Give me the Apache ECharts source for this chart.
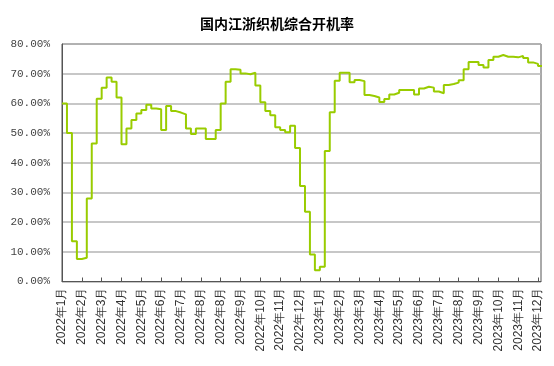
<!DOCTYPE html>
<html>
<head>
<meta charset="utf-8">
<script src="https://cdn.jsdelivr.net/npm/echarts@6/dist/echarts.min.js"></script>
<style>html,body{margin:0;padding:0;background:#fff;}#chart{width:554px;height:366px;}</style>
</head>
<body>
<div id="chart"></div>
<script>
const chartTitle = '国内江浙织机综合开机率';
const tickLabels = ['2022年1月','2022年2月','2022年3月','2022年4月','2022年5月','2022年6月','2022年7月','2022年8月','2022年8月','2022年9月','2022年10月','2022年11月','2022年12月',
  '2023年1月','2023年2月','2023年3月','2023年4月','2023年5月','2023年6月','2023年7月','2023年8月','2023年9月','2023年10月','2023年11月','2023年12月'];
const pointsPerLabel = 4;
const rateValues = [
  60, 50, 13.6, 7.6, 8, 28, 46.5, 61.6, 65.3, 68.7,
  67.3, 62, 46.2, 51.5, 54.4, 56.6, 57.8, 59.5, 58.3, 58,
  51, 59.1, 57.4, 56.9, 56.3, 51.5, 49.7, 51.5, 51.5, 48,
  48, 51, 60, 67.3, 71.5, 71.3, 70.1, 69.8, 70.3, 66,
  60.4, 57.4, 56, 52, 51, 50.3, 52.5, 45, 32.2, 23.5,
  9.1, 3.8, 5, 44, 57, 67.6, 70.3, 70.3, 67.1, 67.9,
  67.5, 62.8, 62.5, 62, 60.5, 61.5, 63, 63.6, 64.5, 64.5,
  64.5, 63, 65, 65.6, 65.3, 64, 63.4, 66.2, 66.5, 67,
  67.8, 71.5, 73.9, 73.9, 72.9, 72.1, 74.6, 75.7, 76.3, 75.7,
  75.7, 75.5, 76, 75.3, 73.8, 73.3, 72.6, 72.3
];
const yTicks = [0, 10, 20, 30, 40, 50, 60, 70, 80];

const chart = echarts.init(document.getElementById('chart'), null, {renderer: 'canvas'});
chart.setOption({
  animation: false,
  backgroundColor: '#ffffff',
  title: {
    text: chartTitle,
    left: 'center',
    top: 12,
    textStyle: {fontFamily: 'Noto Sans CJK SC', fontSize: 14, fontWeight: 'bold', color: '#000'}
  },
  grid: {
    left: 62, top: 44, width: 479, height: 237.5,
    show: true, borderColor: '#555', borderWidth: 1, backgroundColor: 'transparent'
  },
  xAxis: {
    type: 'value',
    min: 0,
    max: (tickLabels.length - 1) * pointsPerLabel + 0.6,
    interval: pointsPerLabel,
    axisLine: {show: true, lineStyle: {color: '#555', width: 1}},
    axisTick: {show: true, inside: true, length: 4, lineStyle: {color: '#555'}},
    splitLine: {show: false},
    axisLabel: {
      rotate: 90,
      margin: 6,
      fontFamily: 'Liberation Sans',
      fontSize: 12,
      color: '#333',
      showMaxLabel: false,
      formatter: function (v) {
        const k = Math.round(v / pointsPerLabel);
        if (Math.abs(k * pointsPerLabel - v) > 1e-6) return '';
        return tickLabels[k] || '';
      }
    }
  },
  yAxis: {
    type: 'value',
    min: yTicks[0],
    max: yTicks[yTicks.length - 1],
    interval: 10,
    axisLine: {show: true, lineStyle: {color: '#555', width: 1}},
    axisTick: {show: false},
    splitLine: {show: true, lineStyle: {color: '#b4b4b4', width: 1.5}},
    axisLabel: {
      margin: 12,
      fontFamily: 'Liberation Mono',
      fontSize: 11,
      color: '#444',
      formatter: function (v) { return v.toFixed(2) + '%'; }
    }
  },
  series: [{
    type: 'line',
    step: 'end',
    data: rateValues.map(function (v, i) { return [i, v]; }),
    showSymbol: false,
    symbol: 'none',
    clip: true,
    lineStyle: {color: '#99CC00', width: 2},
    itemStyle: {color: '#99CC00'}
  }]
});
</script>
</body>
</html>
